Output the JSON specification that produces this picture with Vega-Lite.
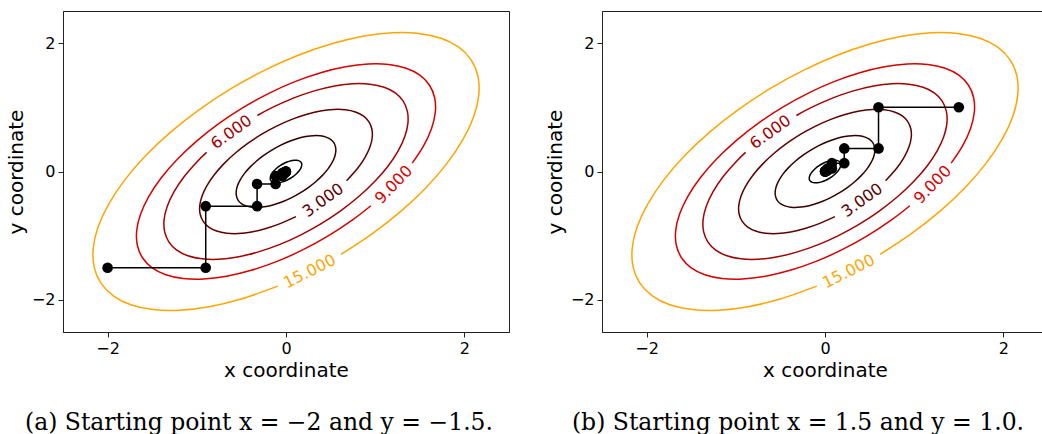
{
  "$schema": "https://vega.github.io/schema/vega-lite/v6.json",
  "padding": {"left": 5, "top": 10, "right": 0, "bottom": 0},
  "background": "white",
  "spacing": 93,
  "bounds": "flush",
  "config": {
    "view": {"stroke": "#222", "strokeWidth": 1},
    "axis": {"grid": false, "tickColor": "#222", "domainColor": "#222", "tickSize": 5, "labelPadding": 3,
      "labelFont": "DejaVu Sans", "labelFontSize": 16, "labelColor": "black", "titleFont": "DejaVu Sans", "titleFontSize": 20,
      "titleFontWeight": "normal", "titleColor": "black", "labelExpr": "replace(datum.label, '-', '\u2212')"},
    "axisY": {"titlePadding": 5},
    "axisX": {"titlePadding": 4}
  },
  "datasets": {
    "contours": [
      {"level":0.1,"i":0,"x":0.158,"y":0.158},{"level":0.1,"i":1,"x":0.142,"y":0.169},{"level":0.1,"i":2,"x":0.122,"y":0.176},{"level":0.1,"i":3,"x":0.097,"y":0.176},{"level":0.1,"i":4,"x":0.070,"y":0.172},{"level":0.1,"i":5,"x":0.041,"y":0.162},{"level":0.1,"i":6,"x":0.011,"y":0.148},{"level":0.1,"i":7,"x":-0.020,"y":0.128},{"level":0.1,"i":8,"x":-0.050,"y":0.105},{"level":0.1,"i":9,"x":-0.079,"y":0.079},{"level":0.1,"i":10,"x":-0.105,"y":0.050},{"level":0.1,"i":11,"x":-0.128,"y":0.020},{"level":0.1,"i":12,"x":-0.148,"y":-0.011},{"level":0.1,"i":13,"x":-0.162,"y":-0.041},{"level":0.1,"i":14,"x":-0.172,"y":-0.070},{"level":0.1,"i":15,"x":-0.176,"y":-0.097},{"level":0.1,"i":16,"x":-0.176,"y":-0.122},{"level":0.1,"i":17,"x":-0.169,"y":-0.142},{"level":0.1,"i":18,"x":-0.158,"y":-0.158},{"level":0.1,"i":19,"x":-0.142,"y":-0.169},{"level":0.1,"i":20,"x":-0.122,"y":-0.176},{"level":0.1,"i":21,"x":-0.097,"y":-0.176},{"level":0.1,"i":22,"x":-0.070,"y":-0.172},{"level":0.1,"i":23,"x":-0.041,"y":-0.162},{"level":0.1,"i":24,"x":-0.011,"y":-0.148},{"level":0.1,"i":25,"x":0.020,"y":-0.128},{"level":0.1,"i":26,"x":0.050,"y":-0.105},{"level":0.1,"i":27,"x":0.079,"y":-0.079},{"level":0.1,"i":28,"x":0.105,"y":-0.050},{"level":0.1,"i":29,"x":0.128,"y":-0.020},{"level":0.1,"i":30,"x":0.148,"y":0.011},{"level":0.1,"i":31,"x":0.162,"y":0.041},{"level":0.1,"i":32,"x":0.172,"y":0.070},{"level":0.1,"i":33,"x":0.176,"y":0.097},{"level":0.1,"i":34,"x":0.176,"y":0.122},{"level":0.1,"i":35,"x":0.169,"y":0.142},
      {"level":1,"i":0,"x":0.5,"y":0.5},{"level":1,"i":1,"x":0.449,"y":0.536},{"level":1,"i":2,"x":0.384,"y":0.555},{"level":1,"i":3,"x":0.308,"y":0.558},{"level":1,"i":4,"x":0.222,"y":0.544},{"level":1,"i":5,"x":0.130,"y":0.513},{"level":1,"i":6,"x":0.033,"y":0.467},{"level":1,"i":7,"x":-0.064,"y":0.406},{"level":1,"i":8,"x":-0.159,"y":0.333},{"level":1,"i":9,"x":-0.25,"y":0.25},{"level":1,"i":10,"x":-0.333,"y":0.159},{"level":1,"i":11,"x":-0.406,"y":0.064},{"level":1,"i":12,"x":-0.467,"y":-0.033},{"level":1,"i":13,"x":-0.513,"y":-0.130},{"level":1,"i":14,"x":-0.544,"y":-0.222},{"level":1,"i":15,"x":-0.558,"y":-0.308},{"level":1,"i":16,"x":-0.555,"y":-0.384},{"level":1,"i":17,"x":-0.536,"y":-0.449},{"level":1,"i":18,"x":-0.5,"y":-0.5},{"level":1,"i":19,"x":-0.449,"y":-0.536},{"level":1,"i":20,"x":-0.384,"y":-0.555},{"level":1,"i":21,"x":-0.308,"y":-0.558},{"level":1,"i":22,"x":-0.222,"y":-0.544},{"level":1,"i":23,"x":-0.130,"y":-0.513},{"level":1,"i":24,"x":-0.033,"y":-0.467},{"level":1,"i":25,"x":0.064,"y":-0.406},{"level":1,"i":26,"x":0.159,"y":-0.333},{"level":1,"i":27,"x":0.25,"y":-0.25},{"level":1,"i":28,"x":0.333,"y":-0.159},{"level":1,"i":29,"x":0.406,"y":-0.064},{"level":1,"i":30,"x":0.467,"y":0.033},{"level":1,"i":31,"x":0.513,"y":0.130},{"level":1,"i":32,"x":0.544,"y":0.222},{"level":1,"i":33,"x":0.558,"y":0.308},{"level":1,"i":34,"x":0.555,"y":0.384},{"level":1,"i":35,"x":0.536,"y":0.449},
      {"level":3,"i":0,"x":0.679,"y":-0.144},{"level":3,"i":1,"x":0.808,"y":0.058},{"level":3,"i":2,"x":0.888,"y":0.225},{"level":3,"i":3,"x":0.942,"y":0.385},{"level":3,"i":4,"x":0.967,"y":0.533},{"level":3,"i":5,"x":0.962,"y":0.666},{"level":3,"i":6,"x":0.928,"y":0.778},{"level":3,"i":7,"x":0.866,"y":0.866},{"level":3,"i":8,"x":0.778,"y":0.928},{"level":3,"i":9,"x":0.666,"y":0.962},{"level":3,"i":10,"x":0.533,"y":0.967},{"level":3,"i":11,"x":0.385,"y":0.942},{"level":3,"i":12,"x":0.225,"y":0.888},{"level":3,"i":13,"x":0.058,"y":0.808},{"level":3,"i":14,"x":-0.111,"y":0.703},{"level":3,"i":15,"x":-0.276,"y":0.577},{"level":3,"i":16,"x":-0.433,"y":0.433},{"level":3,"i":17,"x":-0.577,"y":0.276},{"level":3,"i":18,"x":-0.703,"y":0.111},{"level":3,"i":19,"x":-0.808,"y":-0.058},{"level":3,"i":20,"x":-0.888,"y":-0.225},{"level":3,"i":21,"x":-0.942,"y":-0.385},{"level":3,"i":22,"x":-0.967,"y":-0.533},{"level":3,"i":23,"x":-0.962,"y":-0.666},{"level":3,"i":24,"x":-0.928,"y":-0.778},{"level":3,"i":25,"x":-0.866,"y":-0.866},{"level":3,"i":26,"x":-0.778,"y":-0.928},{"level":3,"i":27,"x":-0.666,"y":-0.962},{"level":3,"i":28,"x":-0.533,"y":-0.967},{"level":3,"i":29,"x":-0.385,"y":-0.942},{"level":3,"i":30,"x":-0.225,"y":-0.888},{"level":3,"i":31,"x":-0.058,"y":-0.808},{"level":3,"i":32,"x":0.111,"y":-0.703},
      {"level":6,"i":0,"x":-0.890,"y":0.298},{"level":6,"i":1,"x":-0.994,"y":0.157},{"level":6,"i":2,"x":-1.143,"y":-0.082},{"level":6,"i":3,"x":-1.256,"y":-0.318},{"level":6,"i":4,"x":-1.332,"y":-0.545},{"level":6,"i":5,"x":-1.367,"y":-0.754},{"level":6,"i":6,"x":-1.360,"y":-0.941},{"level":6,"i":7,"x":-1.312,"y":-1.100},{"level":6,"i":8,"x":-1.225,"y":-1.225},{"level":6,"i":9,"x":-1.100,"y":-1.312},{"level":6,"i":10,"x":-0.941,"y":-1.360},{"level":6,"i":11,"x":-0.754,"y":-1.367},{"level":6,"i":12,"x":-0.545,"y":-1.332},{"level":6,"i":13,"x":-0.318,"y":-1.256},{"level":6,"i":14,"x":-0.082,"y":-1.143},{"level":6,"i":15,"x":0.157,"y":-0.994},{"level":6,"i":16,"x":0.390,"y":-0.816},{"level":6,"i":17,"x":0.612,"y":-0.612},{"level":6,"i":18,"x":0.816,"y":-0.390},{"level":6,"i":19,"x":0.994,"y":-0.157},{"level":6,"i":20,"x":1.143,"y":0.082},{"level":6,"i":21,"x":1.256,"y":0.318},{"level":6,"i":22,"x":1.332,"y":0.545},{"level":6,"i":23,"x":1.367,"y":0.754},{"level":6,"i":24,"x":1.360,"y":0.941},{"level":6,"i":25,"x":1.312,"y":1.100},{"level":6,"i":26,"x":1.225,"y":1.225},{"level":6,"i":27,"x":1.100,"y":1.312},{"level":6,"i":28,"x":0.941,"y":1.360},{"level":6,"i":29,"x":0.754,"y":1.367},{"level":6,"i":30,"x":0.545,"y":1.332},{"level":6,"i":31,"x":0.318,"y":1.256},{"level":6,"i":32,"x":0.082,"y":1.143},{"level":6,"i":33,"x":-0.157,"y":0.994},{"level":6,"i":34,"x":-0.321,"y":0.872},
      {"level":9,"i":0,"x":1.415,"y":0.130},{"level":9,"i":1,"x":1.539,"y":0.390},{"level":9,"i":2,"x":1.631,"y":0.667},{"level":9,"i":3,"x":1.674,"y":0.924},{"level":9,"i":4,"x":1.666,"y":1.153},{"level":9,"i":5,"x":1.607,"y":1.347},{"level":9,"i":6,"x":1.5,"y":1.5},{"level":9,"i":7,"x":1.347,"y":1.607},{"level":9,"i":8,"x":1.153,"y":1.666},{"level":9,"i":9,"x":0.924,"y":1.674},{"level":9,"i":10,"x":0.667,"y":1.631},{"level":9,"i":11,"x":0.390,"y":1.539},{"level":9,"i":12,"x":0.100,"y":1.400},{"level":9,"i":13,"x":-0.192,"y":1.218},{"level":9,"i":14,"x":-0.478,"y":0.999},{"level":9,"i":15,"x":-0.75,"y":0.75},{"level":9,"i":16,"x":-0.999,"y":0.478},{"level":9,"i":17,"x":-1.218,"y":0.192},{"level":9,"i":18,"x":-1.400,"y":-0.100},{"level":9,"i":19,"x":-1.539,"y":-0.390},{"level":9,"i":20,"x":-1.631,"y":-0.667},{"level":9,"i":21,"x":-1.674,"y":-0.924},{"level":9,"i":22,"x":-1.666,"y":-1.153},{"level":9,"i":23,"x":-1.607,"y":-1.347},{"level":9,"i":24,"x":-1.5,"y":-1.5},{"level":9,"i":25,"x":-1.347,"y":-1.607},{"level":9,"i":26,"x":-1.153,"y":-1.666},{"level":9,"i":27,"x":-0.924,"y":-1.674},{"level":9,"i":28,"x":-0.667,"y":-1.631},{"level":9,"i":29,"x":-0.390,"y":-1.539},{"level":9,"i":30,"x":-0.100,"y":-1.400},{"level":9,"i":31,"x":0.192,"y":-1.218},{"level":9,"i":32,"x":0.478,"y":-0.999},{"level":9,"i":33,"x":0.75,"y":-0.75},{"level":9,"i":34,"x":0.951,"y":-0.534},
      {"level":15,"i":0,"x":0.617,"y":-1.290},{"level":15,"i":1,"x":0.968,"y":-0.968},{"level":15,"i":2,"x":1.290,"y":-0.617},{"level":15,"i":3,"x":1.572,"y":-0.248},{"level":15,"i":4,"x":1.807,"y":0.130},{"level":15,"i":5,"x":1.986,"y":0.503},{"level":15,"i":6,"x":2.106,"y":0.861},{"level":15,"i":7,"x":2.161,"y":1.193},{"level":15,"i":8,"x":2.151,"y":1.489},{"level":15,"i":9,"x":2.075,"y":1.739},{"level":15,"i":10,"x":1.936,"y":1.936},{"level":15,"i":11,"x":1.739,"y":2.075},{"level":15,"i":12,"x":1.489,"y":2.151},{"level":15,"i":13,"x":1.193,"y":2.161},{"level":15,"i":14,"x":0.861,"y":2.106},{"level":15,"i":15,"x":0.503,"y":1.986},{"level":15,"i":16,"x":0.130,"y":1.807},{"level":15,"i":17,"x":-0.248,"y":1.572},{"level":15,"i":18,"x":-0.617,"y":1.290},{"level":15,"i":19,"x":-0.968,"y":0.968},{"level":15,"i":20,"x":-1.290,"y":0.617},{"level":15,"i":21,"x":-1.572,"y":0.248},{"level":15,"i":22,"x":-1.807,"y":-0.130},{"level":15,"i":23,"x":-1.986,"y":-0.503},{"level":15,"i":24,"x":-2.106,"y":-0.861},{"level":15,"i":25,"x":-2.161,"y":-1.193},{"level":15,"i":26,"x":-2.151,"y":-1.489},{"level":15,"i":27,"x":-2.075,"y":-1.739},{"level":15,"i":28,"x":-1.936,"y":-1.936},{"level":15,"i":29,"x":-1.739,"y":-2.075},{"level":15,"i":30,"x":-1.489,"y":-2.151},{"level":15,"i":31,"x":-1.193,"y":-2.161},{"level":15,"i":32,"x":-0.861,"y":-2.106},{"level":15,"i":33,"x":-0.503,"y":-1.986},{"level":15,"i":34,"x":-0.092,"y":-1.786}
    ],
    "labels": [
      {"level":6,"text":"6.000","x":-0.612,"y":0.612},
      {"level":3,"text":"3.000","x":0.418,"y":-0.448},
      {"level":9,"text":"9.000","x":1.208,"y":-0.206},
      {"level":15,"text":"15.000","x":0.266,"y":-1.559}
    ],
    "pathA": [
      {"step":0,"x":-2,"y":-1.5},{"step":1,"x":-0.9,"y":-1.5},{"step":2,"x":-0.9,"y":-0.54},{"step":3,"x":-0.324,"y":-0.54},{"step":4,"x":-0.324,"y":-0.1944},{"step":5,"x":-0.1166,"y":-0.1944},{"step":6,"x":-0.1166,"y":-0.07},{"step":7,"x":-0.042,"y":-0.07},{"step":8,"x":-0.042,"y":-0.0252},{"step":9,"x":-0.0151,"y":-0.0252},{"step":10,"x":-0.0151,"y":-0.0091},{"step":11,"x":-0.0054,"y":-0.0091},{"step":12,"x":-0.0054,"y":-0.0033},{"step":13,"x":-0.002,"y":-0.0033},{"step":14,"x":-0.002,"y":-0.0012},{"step":15,"x":-0.0007,"y":-0.0012}
    ],
    "pathB": [
      {"step":0,"x":1.5,"y":1.0},{"step":1,"x":0.6,"y":1.0},{"step":2,"x":0.6,"y":0.36},{"step":3,"x":0.216,"y":0.36},{"step":4,"x":0.216,"y":0.1296},{"step":5,"x":0.0778,"y":0.1296},{"step":6,"x":0.0778,"y":0.0467},{"step":7,"x":0.028,"y":0.0467},{"step":8,"x":0.028,"y":0.0168},{"step":9,"x":0.0101,"y":0.0168},{"step":10,"x":0.0101,"y":0.006},{"step":11,"x":0.0036,"y":0.006},{"step":12,"x":0.0036,"y":0.0022},{"step":13,"x":0.0013,"y":0.0022},{"step":14,"x":0.0013,"y":0.0008},{"step":15,"x":0.0005,"y":0.0008}
    ]
  },
  "hconcat": [
    {
      "width": 446, "height": 321,
      "title": {"text": "(a) Starting point x = \u22122 and y = \u22121.5.", "orient": "bottom", "anchor": "middle", "baseline": "alphabetic", "font": "DejaVu Serif", "fontSize": 23.5, "fontWeight": "normal", "color": "black", "offset": 50, "dx": -27},
      "encoding": {
        "x": {"field": "x", "type": "quantitative", "scale": {"domain": [-2.5, 2.5], "nice": false, "zero": false}, "axis": {"title": "x coordinate", "values": [-2, 0, 2]}},
        "y": {"field": "y", "type": "quantitative", "scale": {"domain": [-2.5, 2.5], "nice": false, "zero": false}, "axis": {"title": "y coordinate", "values": [-2, 0, 2]}}
      },
      "layer": [
        {"data": {"name": "contours"}, "transform": [{"filter": "datum.level < 2"}], "mark": {"type": "line", "interpolate": "cardinal-closed", "strokeWidth": 1.5},
         "encoding": {"order": {"field": "i", "type": "quantitative"}, "detail": {"field": "level", "type": "nominal"}, "color": {"field": "level", "type": "ordinal", "scale": {"domain": [0.1, 1, 3, 6, 9, 15], "range": ["#000000", "#330000", "#5e0000", "#a30000", "#d80000", "#ffa500"]}, "legend": null}}},
        {"data": {"name": "contours"}, "transform": [{"filter": "datum.level > 2"}], "mark": {"type": "line", "interpolate": "cardinal", "strokeWidth": 1.5},
         "encoding": {"order": {"field": "i", "type": "quantitative"}, "detail": {"field": "level", "type": "nominal"}, "color": {"field": "level", "type": "ordinal", "scale": {"domain": [0.1, 1, 3, 6, 9, 15], "range": ["#000000", "#330000", "#5e0000", "#a30000", "#d80000", "#ffa500"]}, "legend": null}}},
        {"data": {"name": "labels"}, "transform": [{"filter": "datum.level == 3 || datum.level == 6"}], "mark": {"type": "text", "angle": -35.75, "font": "DejaVu Sans", "fontSize": 16, "align": "center", "baseline": "middle"},
         "encoding": {"text": {"field": "text"}, "color": {"field": "level", "type": "ordinal", "legend": null}}},
        {"data": {"name": "labels"}, "transform": [{"filter": "datum.level == 9"}], "mark": {"type": "text", "angle": -45.9, "font": "DejaVu Sans", "fontSize": 16, "align": "center", "baseline": "middle"},
         "encoding": {"text": {"field": "text"}, "color": {"field": "level", "type": "ordinal", "legend": null}}},
        {"data": {"name": "labels"}, "transform": [{"filter": "datum.level == 15"}], "mark": {"type": "text", "angle": -26.7, "font": "DejaVu Sans", "fontSize": 16, "align": "center", "baseline": "middle"},
         "encoding": {"text": {"field": "text"}, "color": {"field": "level", "type": "ordinal", "legend": null}}},
        {"data": {"name": "pathA"}, "mark": {"type": "line", "color": "black", "strokeWidth": 1.5}, "encoding": {"order": {"field": "step", "type": "quantitative"}}},
        {"data": {"name": "pathA"}, "mark": {"type": "point", "filled": true, "color": "black", "opacity": 1, "size": 113}}
      ]
    },
    {
      "width": 446, "height": 321,
      "title": {"text": "(b) Starting point x = 1.5 and y = 1.0.", "orient": "bottom", "anchor": "middle", "baseline": "alphabetic", "font": "DejaVu Serif", "fontSize": 23.5, "fontWeight": "normal", "color": "black", "offset": 50, "dx": -27},
      "encoding": {
        "x": {"field": "x", "type": "quantitative", "scale": {"domain": [-2.5, 2.5], "nice": false, "zero": false}, "axis": {"title": "x coordinate", "values": [-2, 0, 2]}},
        "y": {"field": "y", "type": "quantitative", "scale": {"domain": [-2.5, 2.5], "nice": false, "zero": false}, "axis": {"title": "y coordinate", "values": [-2, 0, 2]}}
      },
      "layer": [
        {"data": {"name": "contours"}, "transform": [{"filter": "datum.level < 2"}], "mark": {"type": "line", "interpolate": "cardinal-closed", "strokeWidth": 1.5},
         "encoding": {"order": {"field": "i", "type": "quantitative"}, "detail": {"field": "level", "type": "nominal"}, "color": {"field": "level", "type": "ordinal", "scale": {"domain": [0.1, 1, 3, 6, 9, 15], "range": ["#000000", "#330000", "#5e0000", "#a30000", "#d80000", "#ffa500"]}, "legend": null}}},
        {"data": {"name": "contours"}, "transform": [{"filter": "datum.level > 2"}], "mark": {"type": "line", "interpolate": "cardinal", "strokeWidth": 1.5},
         "encoding": {"order": {"field": "i", "type": "quantitative"}, "detail": {"field": "level", "type": "nominal"}, "color": {"field": "level", "type": "ordinal", "scale": {"domain": [0.1, 1, 3, 6, 9, 15], "range": ["#000000", "#330000", "#5e0000", "#a30000", "#d80000", "#ffa500"]}, "legend": null}}},
        {"data": {"name": "labels"}, "transform": [{"filter": "datum.level == 3 || datum.level == 6"}], "mark": {"type": "text", "angle": -35.75, "font": "DejaVu Sans", "fontSize": 16, "align": "center", "baseline": "middle"},
         "encoding": {"text": {"field": "text"}, "color": {"field": "level", "type": "ordinal", "legend": null}}},
        {"data": {"name": "labels"}, "transform": [{"filter": "datum.level == 9"}], "mark": {"type": "text", "angle": -45.9, "font": "DejaVu Sans", "fontSize": 16, "align": "center", "baseline": "middle"},
         "encoding": {"text": {"field": "text"}, "color": {"field": "level", "type": "ordinal", "legend": null}}},
        {"data": {"name": "labels"}, "transform": [{"filter": "datum.level == 15"}], "mark": {"type": "text", "angle": -26.7, "font": "DejaVu Sans", "fontSize": 16, "align": "center", "baseline": "middle"},
         "encoding": {"text": {"field": "text"}, "color": {"field": "level", "type": "ordinal", "legend": null}}},
        {"data": {"name": "pathB"}, "mark": {"type": "line", "color": "black", "strokeWidth": 1.5}, "encoding": {"order": {"field": "step", "type": "quantitative"}}},
        {"data": {"name": "pathB"}, "mark": {"type": "point", "filled": true, "color": "black", "opacity": 1, "size": 113}}
      ]
    }
  ]
}
